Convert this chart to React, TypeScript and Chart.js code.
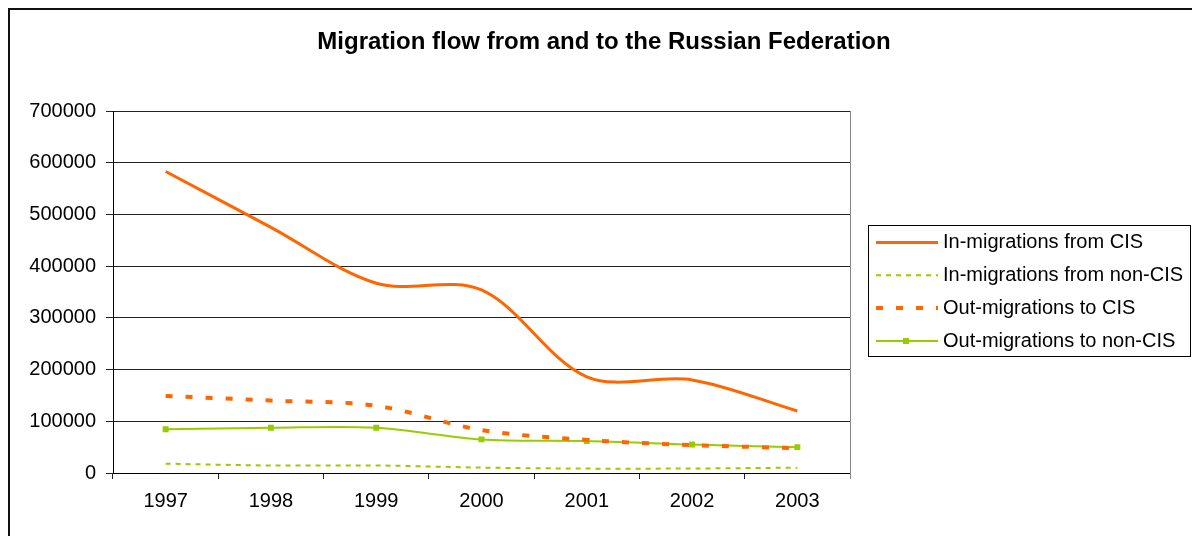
import React, { useEffect, useRef } from "react";
import { Chart, registerables } from "chart.js";

Chart.register(...registerables);

const TITLE = "Migration flow from and to the Russian Federation";
const years = ["1997", "1998", "1999", "2000", "2001", "2002", "2003"];
const inFromCIS = [583000, 475000, 367000, 354000, 186000, 180000, 120000];
const inFromNonCIS = [18000, 14500, 14500, 10500, 8500, 8700, 10300];
const outToCIS = [149000, 140000, 130000, 83000, 64000, 54000, 48000];
const outToNonCIS = [84500, 87500, 87500, 65000, 62000, 55000, 50000];
const yTicks = [0, 100000, 200000, 300000, 400000, 500000, 600000, 700000];
const seriesNames = [
  "In-migrations from CIS",
  "In-migrations from non-CIS",
  "Out-migrations to CIS",
  "Out-migrations to non-CIS",
];

const ORANGE = "#FF6600";
const GREEN = "#99CC00";
const FONT = "'Liberation Sans', Arial, Helvetica, sans-serif";

const decor = {
  id: "decor",
  beforeDraw(chart: any) {
    const { ctx, width, height } = chart;
    ctx.save();
    ctx.fillStyle = "#fff";
    ctx.fillRect(0, 0, width, height);
    ctx.restore();
  },
  afterDraw(chart: any) {
    const { ctx, chartArea } = chart;
    ctx.save();
    // outer chart border
    ctx.strokeStyle = "#111";
    ctx.lineWidth = 2;
    ctx.beginPath();
    ctx.moveTo(9, 700);
    ctx.lineTo(9, 9);
    ctx.lineTo(1400, 9);
    ctx.stroke();
    // plot area right border
    ctx.strokeStyle = "#888";
    ctx.lineWidth = 1;
    ctx.beginPath();
    ctx.moveTo(chartArea.right + 0.5, chartArea.top);
    ctx.lineTo(chartArea.right + 0.5, chartArea.bottom + 6);
    ctx.stroke();
    // title
    ctx.fillStyle = "#000";
    ctx.font = "bold 24px " + FONT;
    ctx.textAlign = "center";
    ctx.textBaseline = "middle";
    ctx.fillText(TITLE, 604, 42);
    // legend
    const lx = 868.5, ly = 225.5, lw = 322, lh = 131;
    ctx.strokeStyle = "#000";
    ctx.lineWidth = 1;
    ctx.strokeRect(lx, ly, lw, lh);
    const rowY = [242.5, 275.3, 308.1, 341];
    ctx.font = "20px " + FONT;
    ctx.textAlign = "left";
    chart.data.datasets.forEach((ds: any, i: number) => {
      const y = rowY[i];
      ctx.save();
      ctx.strokeStyle = ds.borderColor;
      ctx.lineWidth = ds.borderWidth;
      ctx.setLineDash(ds.borderDash || []);
      ctx.beginPath();
      ctx.moveTo(876, y);
      ctx.lineTo(938, y);
      ctx.stroke();
      ctx.restore();
      if (ds.pointRadius > 0) {
        ctx.fillStyle = ds.pointBackgroundColor;
        ctx.fillRect(903, y - 3, 6, 6);
      }
      ctx.fillStyle = "#000";
      ctx.textBaseline = "middle";
      ctx.fillText(ds.label, 943, y);
    });
    ctx.restore();
  },
};

export default function App() {
  const ref = useRef<HTMLCanvasElement | null>(null);
  useEffect(() => {
    if (!ref.current) return;
    const tickFont = { family: FONT, size: 20 };
    const chart = new Chart(ref.current, {
      type: "line",
      data: {
        labels: years,
        datasets: [
          {
            label: seriesNames[0],
            data: inFromCIS,
            borderColor: ORANGE,
            backgroundColor: ORANGE,
            borderWidth: 3,
            pointRadius: 0,
            tension: 0.33,
          },
          {
            label: seriesNames[1],
            data: inFromNonCIS,
            borderColor: GREEN,
            backgroundColor: GREEN,
            borderWidth: 2,
            borderDash: [5, 5],
            pointRadius: 0,
            tension: 0.33,
          },
          {
            label: seriesNames[2],
            data: outToCIS,
            borderColor: ORANGE,
            backgroundColor: ORANGE,
            borderWidth: 4,
            borderDash: [7, 13],
            pointRadius: 0,
            tension: 0.33,
          },
          {
            label: seriesNames[3],
            data: outToNonCIS,
            borderColor: GREEN,
            backgroundColor: GREEN,
            borderWidth: 2,
            pointRadius: 4.2,
            pointStyle: "rect",
            pointBackgroundColor: GREEN,
            pointBorderColor: GREEN,
            pointBorderWidth: 0,
            tension: 0.33,
          },
        ] as any,
      },
      options: {
        responsive: false,
        animation: false,
        layout: { padding: { left: 28, right: 342, top: 111, bottom: 23 } },
        plugins: {
          legend: { display: false },
          title: { display: false },
          tooltip: { enabled: false },
        },
        scales: {
          x: {
            type: "category",
            offset: true,
            grid: {
              offset: true,
              drawOnChartArea: false,
              drawTicks: true,
              tickLength: 6,
              color: "#222",
            },
            border: { display: true, color: "#000", width: 1 },
            ticks: {
              font: tickFont,
              color: "#000",
              padding: 10,
              maxRotation: 0,
              autoSkip: false,
            },
            afterFit: (s: any) => {
              s.height = 40;
            },
          },
          y: {
            min: 0,
            max: 700000,
            afterBuildTicks: (s: any) => {
              s.ticks = yTicks.map((v) => ({ value: v }));
            },
            ticks: {
              font: tickFont,
              color: "#000",
              padding: 10,
              callback: (v: any) => String(v),
            },
            grid: { color: "#222", tickLength: 7, drawTicks: true },
            border: { display: true, color: "#000", width: 1 },
            afterFit: (s: any) => {
              s.width = 85;
            },
          },
        },
      } as any,
      plugins: [decor],
    });
    return () => chart.destroy();
  }, []);
  return (
    <div
      style={{
        position: "fixed",
        left: 0,
        top: 0,
        width: 1192,
        height: 536,
        background: "#fff",
        overflow: "hidden",
      }}
    >
      <canvas ref={ref} width={1192} height={536} style={{ display: "block" }} />
    </div>
  );
}
